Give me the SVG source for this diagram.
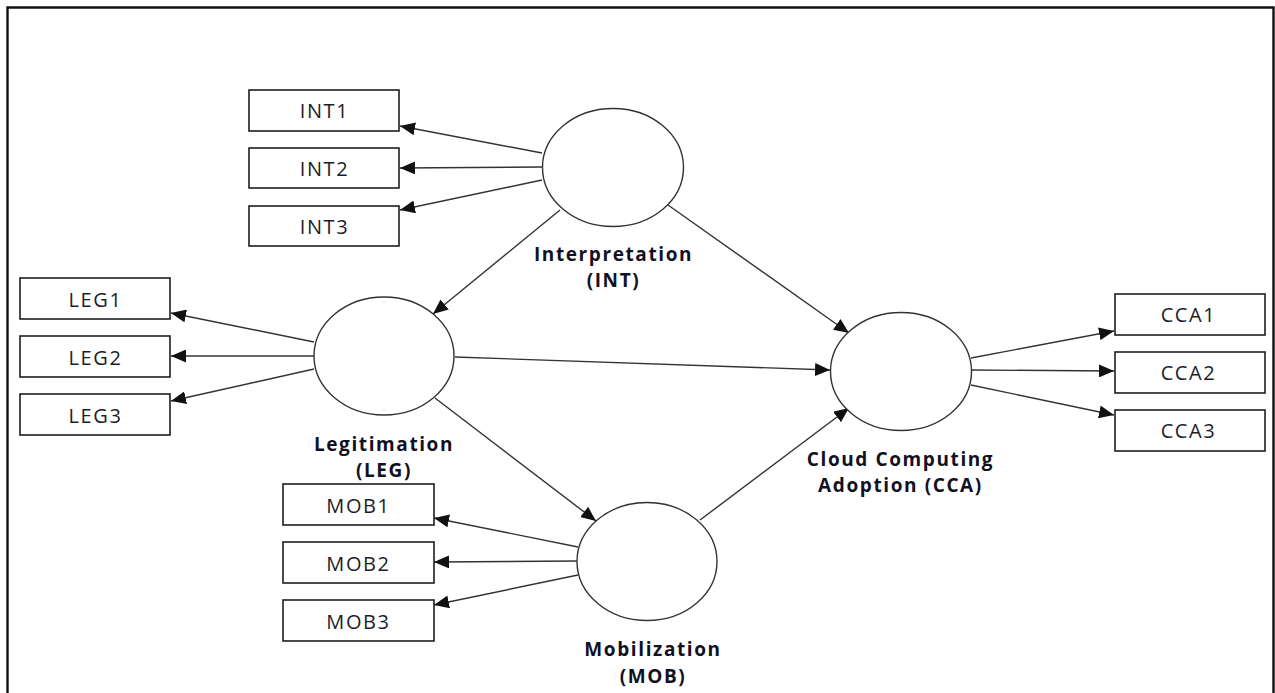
<svg xmlns="http://www.w3.org/2000/svg" width="1275" height="693" viewBox="0 0 1275 693">
  <style>
    .box { fill: #ffffff; stroke: #1e1e1e; stroke-width: 1.6; }
    .lat { fill: #ffffff; stroke: #333333; stroke-width: 1.4; }
    .ind { font-family: "Open Sans", "Liberation Sans", sans-serif; font-size: 20px; letter-spacing: 1.6px; fill: #1c1c2a; text-anchor: middle; }
    .name { font-family: "Open Sans", "Liberation Sans", sans-serif; font-size: 19px; letter-spacing: 1.6px; font-weight: bold; fill: #111122; text-anchor: middle; }
    .edge { stroke: #333333; stroke-width: 1.4; fill: none; marker-end: url(#arrow); }
  </style>
  <defs>
    <marker id="arrow" markerUnits="userSpaceOnUse" markerWidth="15" markerHeight="13" refX="15" refY="6.5" orient="auto">
      <path d="M0,0 L15,6.5 L0,13 z" fill="#111111"/>
    </marker>
  </defs>

  <rect width="1275" height="693" fill="#ffffff"/>
  <!-- frame (open at the bottom) -->
  <path d="M7.5,693 V7.5 H1273.5 V693" fill="none" stroke="#111111" stroke-width="2.4"/>

  <!-- connectors -->
  <g id="connectors">
    <!-- INT indicators -->
    <line class="edge" x1="542" y1="153" x2="400" y2="126"/>
    <line class="edge" x1="542" y1="167" x2="400" y2="168"/>
    <line class="edge" x1="542" y1="180" x2="400" y2="210"/>
    <!-- LEG indicators -->
    <line class="edge" x1="314" y1="342" x2="171" y2="313"/>
    <line class="edge" x1="314" y1="356" x2="171" y2="356"/>
    <line class="edge" x1="314" y1="369" x2="171" y2="401"/>
    <!-- MOB indicators -->
    <line class="edge" x1="578" y1="547" x2="434" y2="518"/>
    <line class="edge" x1="578" y1="561" x2="434" y2="562"/>
    <line class="edge" x1="578" y1="575" x2="434" y2="605"/>
    <!-- CCA indicators -->
    <line class="edge" x1="971" y1="358" x2="1114" y2="331"/>
    <line class="edge" x1="971" y1="370" x2="1114" y2="371"/>
    <line class="edge" x1="971" y1="385" x2="1114" y2="415"/>
    <!-- structural paths -->
    <line class="edge" x1="560" y1="210" x2="433" y2="314"/>
    <line class="edge" x1="668" y1="205" x2="849" y2="333"/>
    <line class="edge" x1="455" y1="357" x2="830" y2="370"/>
    <line class="edge" x1="435" y1="398" x2="596" y2="521"/>
    <line class="edge" x1="700" y1="520" x2="849" y2="408"/>
  </g>

  <!-- Interpretation -->
  <g id="INT">
    <ellipse class="lat" cx="613" cy="167.5" rx="70.5" ry="59"/>
    <text class="name" x="613.5" y="261">Interpretation</text>
    <text class="name" x="613.5" y="287">(INT)</text>
  </g>
  <g id="INT1"><rect class="box" x="249" y="90" width="150" height="41"/><text class="ind" x="324.5" y="118">INT1</text></g>
  <g id="INT2"><rect class="box" x="249" y="148" width="150" height="40"/><text class="ind" x="324.5" y="176">INT2</text></g>
  <g id="INT3"><rect class="box" x="249" y="206" width="150" height="40"/><text class="ind" x="324.5" y="234">INT3</text></g>

  <!-- Legitimation -->
  <g id="LEG">
    <ellipse class="lat" cx="384" cy="356" rx="70" ry="59"/>
    <text class="name" x="384" y="451">Legitimation</text>
    <text class="name" x="384" y="477">(LEG)</text>
  </g>
  <g id="LEG1"><rect class="box" x="20" y="278" width="150" height="41"/><text class="ind" x="95.5" y="307">LEG1</text></g>
  <g id="LEG2"><rect class="box" x="20" y="336" width="150" height="41"/><text class="ind" x="95.5" y="365">LEG2</text></g>
  <g id="LEG3"><rect class="box" x="20" y="394" width="150" height="41"/><text class="ind" x="95.5" y="423">LEG3</text></g>

  <!-- Mobilization -->
  <g id="MOB">
    <ellipse class="lat" cx="647" cy="561.5" rx="70" ry="59"/>
    <text class="name" x="653" y="656">Mobilization</text>
    <text class="name" x="653" y="683">(MOB)</text>
  </g>
  <g id="MOB1"><rect class="box" x="283" y="484" width="151" height="41"/><text class="ind" x="358.5" y="513">MOB1</text></g>
  <g id="MOB2"><rect class="box" x="283" y="542" width="151" height="41"/><text class="ind" x="358.5" y="571">MOB2</text></g>
  <g id="MOB3"><rect class="box" x="283" y="600" width="151" height="41"/><text class="ind" x="358.5" y="629">MOB3</text></g>

  <!-- Cloud Computing Adoption -->
  <g id="CCA">
    <ellipse class="lat" cx="901" cy="371.5" rx="70.5" ry="59"/>
    <text class="name" x="900.5" y="466">Cloud Computing</text>
    <text class="name" x="900.5" y="492">Adoption (CCA)</text>
  </g>
  <g id="CCA1"><rect class="box" x="1115" y="294" width="150" height="41"/><text class="ind" x="1188.5" y="322">CCA1</text></g>
  <g id="CCA2"><rect class="box" x="1115" y="352" width="150" height="41"/><text class="ind" x="1188.5" y="380">CCA2</text></g>
  <g id="CCA3"><rect class="box" x="1115" y="410" width="150" height="41"/><text class="ind" x="1188.5" y="438">CCA3</text></g>
</svg>
